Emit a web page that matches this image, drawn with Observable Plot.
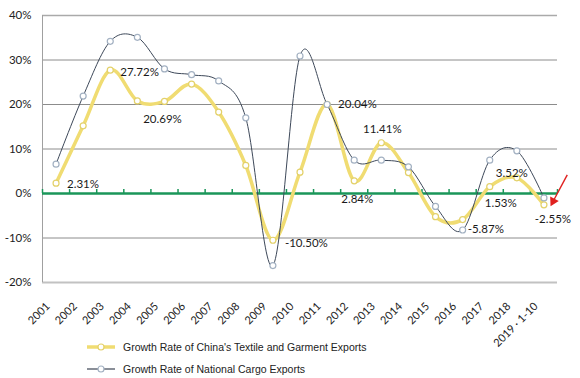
<!DOCTYPE html>
<html><head><meta charset="utf-8">
<script src="https://cdn.jsdelivr.net/npm/d3@7"></script>
<script src="https://cdn.jsdelivr.net/npm/@observablehq/plot@0.6"></script>
<style>
body{margin:0;background:#fff;}
#wrap{position:relative;width:580px;height:378px;overflow:hidden;}
#chart svg{overflow:visible;display:block;}
.legend{position:absolute;left:86px;top:336px;font-family:"Liberation Sans",Arial,sans-serif;font-size:10.5px;color:#222;}
.row{display:flex;align-items:center;height:22px;}
.row svg{margin-right:7px;}
</style></head>
<body><div id="wrap"><div id="chart"></div><div class="legend" id="legend"></div></div>
<script>
const categories = ["2001","2002","2003","2004","2005","2006","2007","2008","2009","2010","2011","2012","2013","2014","2015","2016","2017","2018","2019 · 1-10"];
const textileGrowth = [2.31, 15.2, 27.72, 20.8, 20.69, 24.6, 18.3, 6.3, -10.50, 4.8, 20.04, 2.84, 11.41, 4.7, -5.2, -5.87, 1.53, 3.52, -2.55];
const cargoGrowth = [6.6, 21.9, 34.2, 35.1, 28.0, 26.7, 25.3, 17.0, -16.2, 30.9, 20.0, 7.5, 7.5, 6.0, -2.9, -8.2, 7.5, 9.6, -1.0];
const yTicks = [-20, -10, 0, 10, 20, 30, 40];
const seriesNames = ["Growth Rate of China's Textile and Garment Exports", "Growth Rate of National Cargo Exports"];
const labelled = [0, 2, 4, 8, 10, 11, 12, 15, 16, 17, 18];

// label placement (styling only)
const labelPlacement = {
  0: {anchor:"start", dx:11, dy:1},
  2: {anchor:"start", dx:10, dy:2},
  4: {anchor:"middle", dx:-2, dy:18},
  8: {anchor:"start", dx:12, dy:3},
  10: {anchor:"start", dx:11, dy:0},
  11: {anchor:"middle", dx:3, dy:18},
  12: {anchor:"middle", dx:1, dy:-13},
  15: {anchor:"start", dx:5, dy:10},
  16: {anchor:"middle", dx:11, dy:17},
  17: {anchor:"middle", dx:-5, dy:-5},
  18: {anchor:"middle", dx:9, dy:14}
};
const arrowAnnot = [{x1:18.86, y1:4.18, x2:18.34, y2:-1.74}];

const C_YEL = "#f0dc72", C_YEL_M = "#e3d16a", C_GRAY = "#3d4859", C_GRAY_M = "#a3b1c2", C_GREEN = "#1a9659";

const idx = d3.range(categories.length);
const textile = idx.map(i => ({i, v: textileGrowth[i]}));
const cargo = idx.map(i => ({i, v: cargoGrowth[i]}));
const boundaries = d3.range(categories.length + 1).map(k => k - 0.5);
const fmt = v => v.toFixed(2) + "%";

const labelMarks = labelled.map(i => {
  const p = labelPlacement[i];
  return Plot.text([textile[i]], {x:"i", y:"v", text: d => fmt(d.v), textAnchor:p.anchor, dx:p.dx, dy:p.dy, fill:"#1a1a1a", fontSize:11.5});
});

const chart = Plot.plot({
  width:580, height:336, marginLeft:42, marginRight:23, marginTop:15, marginBottom:54,
  style:{fontFamily:"Lato, sans-serif", fontSize:"11px", color:"#222", background:"transparent", overflow:"visible"},
  x:{type:"linear", domain:[-0.5, categories.length - 0.5], label:null},
  y:{domain:[-20, 40], label:null},
  marks:[
    Plot.ruleY(yTicks.filter(t => t > -20 && t < 40 && t !== 0), {stroke:"#8c8c8c", strokeWidth:1}),
    Plot.ruleY([40], {stroke:"#aaaaaa", strokeWidth:1.3}),
    Plot.ruleY([-20], {stroke:"#c2c2c2", strokeWidth:2}),
    Plot.ruleX([-0.5], {stroke:"#a0a0a0", strokeWidth:1}),
    Plot.ruleY([0], {stroke:C_GREEN, strokeWidth:2.5}),
    Plot.ruleX(boundaries, {y1:0, y2:0.9, stroke:C_GREEN, strokeWidth:1.5}),
    Plot.line(textile, {x:"i", y:"v", curve:"cardinal", stroke:C_YEL, strokeWidth:3.5}),
    Plot.dot(textile, {x:"i", y:"v", r:3, fill:"white", stroke:C_YEL_M, strokeWidth:1.2}),
    Plot.line(cargo, {x:"i", y:"v", curve:"cardinal", stroke:C_GRAY, strokeWidth:1}),
    Plot.dot(cargo, {x:"i", y:"v", r:3, fill:"white", stroke:C_GRAY_M, strokeWidth:1.2}),
    ...labelMarks,
    Plot.link(arrowAnnot, {x1:"x1", y1:"y1", x2:"x2", y2:"y2", stroke:"#e0201f", strokeWidth:1.4}),
    Plot.dot(arrowAnnot, {x:"x2", y:"y2", symbol:"triangle", r:3.6, rotate:208, fill:"#e0201f", stroke:"none"}),
    Plot.axisY({ticks:yTicks, tickFormat: d => d + "%", tickSize:0, tickPadding:11, fontSize:11.5, label:null}),
    Plot.axisX({ticks:idx, tickFormat: i => categories[i], tickRotate:-45, tickSize:0, tickPadding:12, dx:-8, dy:10, fontSize:11, label:null})
  ]
});
document.getElementById("chart").appendChild(chart);

const legendItems = [
  {name: seriesNames[0], line: C_YEL, lw: 3.5, mk: C_YEL_M},
  {name: seriesNames[1], line: "#8a8f98", lw: 2, mk: C_GRAY_M}
];
const lg = document.getElementById("legend");
legendItems.forEach(it => {
  const row = document.createElement("div");
  row.className = "row";
  row.innerHTML = `<svg width="30" height="10"><line x1="1" x2="29" y1="5" y2="5" stroke="${it.line}" stroke-width="${it.lw}"/><circle cx="15" cy="5" r="3" fill="white" stroke="${it.mk}" stroke-width="1.2"/></svg><span>${it.name}</span>`;
  lg.appendChild(row);
});
</script>
</body></html>
